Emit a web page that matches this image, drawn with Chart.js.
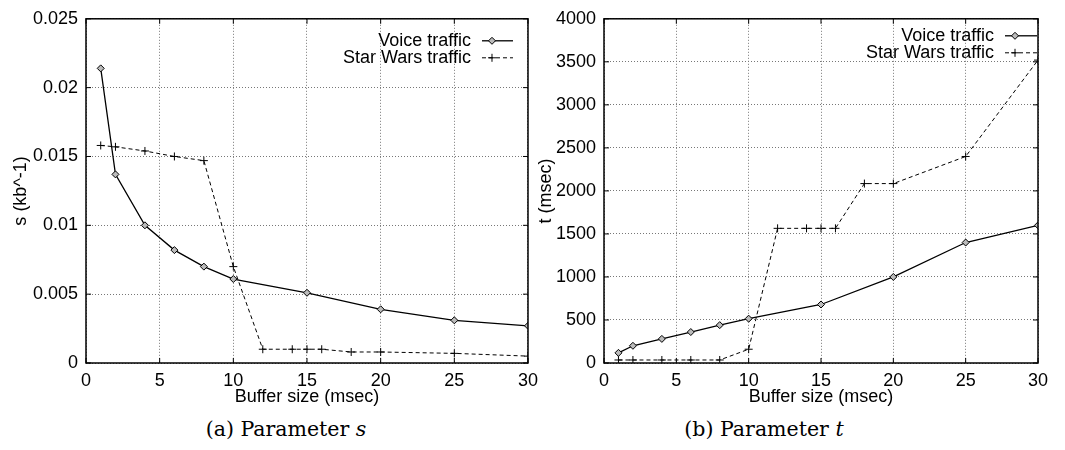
<!DOCTYPE html>
<html>
<head>
<meta charset="utf-8">
<script src="https://cdn.jsdelivr.net/npm/chart.js@4"></script>
<style>
  body { margin: 0; background: #fff; width: 1065px; height: 450px; position: relative; overflow: hidden; }
  .wrap { position: absolute; top: 0; height: 410px; }
  .cap { position: absolute; top: 417px; font-family: "DejaVu Serif", serif; font-size: 20.5px; color: #000; transform: translateX(-50%); white-space: nowrap; }
</style>
</head>
<body>
<div class="wrap" style="left:0;width:545px"><canvas id="chartS"></canvas></div>
<div class="wrap" style="left:532px;width:533px"><canvas id="chartT"></canvas></div>
<div class="cap" style="left:286px">(a) Parameter <i>s</i></div>
<div class="cap" style="left:764px">(b) Parameter <i>t</i></div>
<script>
// data
const bufferVoice = [1, 2, 4, 6, 8, 10, 15, 20, 25, 30];
const bufferStarWars = [1, 2, 4, 6, 8, 10, 12, 14, 15, 16, 18, 20, 25, 30];
const sVoice = [0.0214, 0.0137, 0.0100, 0.0082, 0.0070, 0.0061, 0.0051, 0.0039, 0.0031, 0.0027];
const sStarWars = [0.0158, 0.0157, 0.0154, 0.0150, 0.0147, 0.0070, 0.0010, 0.0010, 0.0010, 0.0010, 0.0008, 0.0008, 0.0007, 0.0005];
const tVoice = [118, 200, 280, 360, 440, 515, 680, 1000, 1400, 1600];
const tStarWars = [35, 35, 35, 35, 35, 160, 1565, 1565, 1565, 1565, 2085, 2085, 2400, 3520];
const seriesNames = ['Voice traffic', 'Star Wars traffic'];
const xTitle = 'Buffer size (msec)';

const FONT = "'Liberation Sans', Arial, sans-serif";
Chart.defaults.font.family = FONT;
Chart.defaults.font.size = 18;
Chart.defaults.color = '#000';

function pts(xs, ys) {
  return xs.map(function (x, i) { return { x: x, y: ys[i] }; });
}

// plot frame + inward ticks, like gnuplot
const framePlugin = {
  id: 'frame',
  afterDatasetsDraw(chart) {
    const a = chart.chartArea, ctx = chart.ctx;
    ctx.save();
    ctx.strokeStyle = '#000';
    ctx.lineWidth = 1;
    ctx.beginPath();
    chart.scales.x.ticks.forEach(function (t) {
      const px = chart.scales.x.getPixelForValue(t.value);
      ctx.moveTo(px, a.bottom); ctx.lineTo(px, a.bottom - 5);
      ctx.moveTo(px, a.top); ctx.lineTo(px, a.top + 5);
    });
    chart.scales.y.ticks.forEach(function (t) {
      const py = chart.scales.y.getPixelForValue(t.value);
      ctx.moveTo(a.left, py); ctx.lineTo(a.left + 5, py);
      ctx.moveTo(a.right, py); ctx.lineTo(a.right - 5, py);
    });
    ctx.stroke();
    ctx.lineWidth = 1.5;
    ctx.strokeRect(a.left, a.top, a.right - a.left, a.bottom - a.top);
    ctx.restore();
  }
};

// key in the top right corner: text, then line sample
const keyPlugin = {
  id: 'key',
  afterDatasetsDraw(chart, args, opts) {
    const a = chart.chartArea, ctx = chart.ctx;
    ctx.save();
    ctx.font = '18px ' + FONT;
    ctx.textAlign = 'right';
    ctx.textBaseline = 'middle';
    chart.data.datasets.forEach(function (ds, i) {
      const y = a.top + opts.rowTop + i * 17;
      ctx.fillStyle = '#000';
      ctx.fillText(ds.label, a.right - opts.textGap, y);
      const x0 = a.right - opts.sampleStart, x1 = a.right - opts.sampleEnd;
      ctx.strokeStyle = '#000';
      ctx.lineWidth = ds.borderWidth;
      ctx.setLineDash(ds.borderDash || []);
      ctx.beginPath(); ctx.moveTo(x0, y); ctx.lineTo(x1, y); ctx.stroke();
      ctx.setLineDash([]);
      ctx.fillStyle = ds.pointBackgroundColor;
      ctx.lineWidth = 1;
      Chart.helpers.drawPoint(ctx, { pointStyle: ds.pointStyle, radius: ds.pointRadius, borderWidth: 1, rotation: 0 }, x0 + 10, y);
    });
    ctx.restore();
  }
};

function voiceSet(data) {
  return {
    label: seriesNames[0], data: data,
    borderColor: '#000', borderWidth: 1.3,
    pointStyle: 'rectRot', pointRadius: 3.5,
    pointBackgroundColor: '#bbb', pointBorderColor: '#000', pointBorderWidth: 1
  };
}
function starSet(data) {
  return {
    label: seriesNames[1], data: data,
    borderColor: '#000', borderWidth: 1, borderDash: [4, 3],
    pointStyle: 'cross', pointRadius: 4,
    pointBackgroundColor: '#000', pointBorderColor: '#000', pointBorderWidth: 1
  };
}

function makeChart(id, cfg) {
  return new Chart(document.getElementById(id).getContext('2d'), {
    type: 'line',
    data: { datasets: [voiceSet(cfg.voice), starSet(cfg.star)] },
    plugins: [framePlugin, keyPlugin],
    options: {
      responsive: true, maintainAspectRatio: false, animation: false,
      layout: { padding: { left: 0, top: cfg.padTop, right: cfg.padRight, bottom: 0 } },
      elements: { line: { tension: 0 } },
      plugins: {
        legend: { display: false }, tooltip: { enabled: false },
        key: cfg.key
      },
      scales: {
        x: {
          type: 'linear', min: 0, max: 30,
          ticks: { stepSize: 5, padding: 7, maxRotation: 0 },
          grid: { color: '#777', lineWidth: 1, drawTicks: false },
          border: { display: false, dash: [1, 2] },
          title: { display: true, text: xTitle, padding: { top: 0, bottom: 2 } },
          afterFit: function (s) { s.height = 47; }
        },
        y: {
          min: 0, max: cfg.yMax,
          ticks: { stepSize: cfg.yStep, padding: 8, callback: cfg.fmt },
          grid: { color: '#777', lineWidth: 1, drawTicks: false },
          border: { display: false, dash: [1, 2] },
          title: { display: true, text: cfg.yTitle, padding: { top: cfg.yTitlePad, bottom: 0 } },
          afterFit: function (s) { s.width = cfg.yWidth; }
        }
      }
    }
  });
}

makeChart('chartS', {
  voice: pts(bufferVoice, sVoice), star: pts(bufferStarWars, sStarWars),
  yMax: 0.025, yStep: 0.005, yTitle: 's (kb^-1)',
  fmt: function (v) { return String(+v.toFixed(3)); },
  padTop: 13, padRight: 15, yWidth: 86, yTitlePad: 10,
  key: { rowTop: 22, textGap: 57, sampleStart: 46, sampleEnd: 15 }
});

makeChart('chartT', {
  voice: pts(bufferVoice, tVoice), star: pts(bufferStarWars, tStarWars),
  yMax: 4000, yStep: 500, yTitle: 't (msec)',
  fmt: function (v) { return String(v); },
  padTop: 14, padRight: 27, yWidth: 72, yTitlePad: 3,
  key: { rowTop: 17, textGap: 44, sampleStart: 33, sampleEnd: 1 }
});
</script>
</body>
</html>
